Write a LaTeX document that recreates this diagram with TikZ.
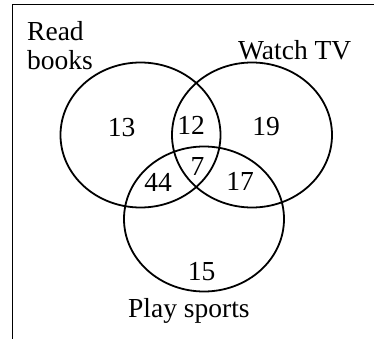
\documentclass[tikz,border=0pt]{standalone}
\usepackage{fontspec}
\setmainfont{Liberation Serif}
\usetikzlibrary{shapes.geometric}
\begin{document}
\begin{tikzpicture}[x=1pt,y=-1pt,
  setshape/.style={draw, ellipse, line width=1.8pt, inner sep=0pt,
    minimum width=160pt, minimum height=145pt},
  lbl/.style={inner sep=0pt, font=\fontsize{27.5}{29}\selectfont},
  num/.style={inner sep=0pt, anchor=base, font=\fontsize{27.5}{29}\selectfont}]
\useasboundingbox (0,0) rectangle (374,339);
% frame (only top and left edges visible)
\draw[line width=1.8pt] (12.5,339) -- (12.5,4.5) -- (374,4.5);
% sets
\node[setshape] (books) at (140.5,135) {};
\node[setshape] (tv) at (252,135) {};
\node[setshape] (sports) at (204,219) {};
% labels
\node[lbl, anchor=base west] (lread) at (27,41) {Read};
\node[lbl, anchor=base west] (lbooks) at (27,70) {books};
\node[lbl, anchor=base west] (ltv) at (238,59.5) {Watch TV};
\node[lbl, anchor=base west] (lsports) at (128,317) {Play sports};
% numbers
\node[num] (n13) at (121.7,136) {13};
\node[num] (n12) at (191,135) {12};
\node[num] (n19) at (266,135.5) {19};
\node[num] (n7) at (197.5,175) {7};
\node[num] (n44) at (158,191.5) {44};
\node[num] (n17) at (240,190) {17};
\node[num] (n15) at (201.7,280) {15};
\end{tikzpicture}
\end{document}
